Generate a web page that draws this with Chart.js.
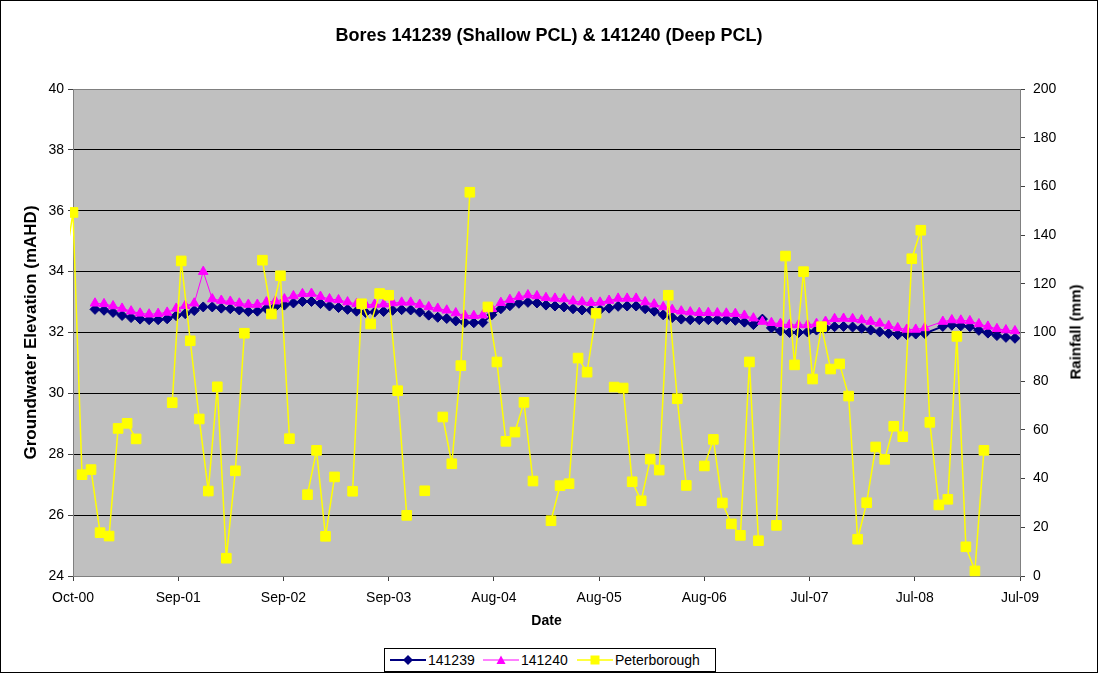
<!DOCTYPE html>
<html>
<head>
<meta charset="utf-8">
<title>Bores 141239 & 141240</title>
<script src="https://cdn.jsdelivr.net/npm/chart.js@4/dist/chart.umd.min.js"></script>
<style>
  body { margin: 0; background: #fff; }
  #wrap { position: relative; width: 1098px; height: 673px; font-family: "Liberation Sans", Arial, sans-serif; }
  #chart { position: absolute; left: 0; top: 0; }
  #rain-title { position: absolute; left: 1075px; top: 332px; transform: translate(-50%, -50%) rotate(-90deg);
    font-weight: bold; font-size: 15px; white-space: nowrap; }
  #legend { position: absolute; left: 384px; top: 648px; width: 330px; height: 22px; border: 1px solid #000;
    background: #fff; font-size: 14px; }
  #legend .item { position: absolute; top: 0; height: 22px; display: flex; align-items: center; }
  #legend svg { margin-right: 2px; }
</style>
</head>
<body>
<div id="wrap">
  <canvas id="chart" width="1098" height="673"></canvas>
  <div id="rain-title">Rainfall (mm)</div>
  <div id="legend">
    <div class="item" style="left:5px">
      <svg width="36" height="12"><line x1="0" y1="6" x2="36" y2="6" stroke="#000080" stroke-width="2"/><polygon points="18,1 23,6 18,11 13,6" fill="#000080"/></svg>141239
    </div>
    <div class="item" style="left:98px">
      <svg width="36" height="12"><line x1="0" y1="6" x2="36" y2="6" stroke="#ff00ff" stroke-width="1"/><polygon points="18,1.5 22.5,10 13.5,10" fill="#ff00ff"/></svg>141240
    </div>
    <div class="item" style="left:192px">
      <svg width="36" height="12"><line x1="0" y1="6" x2="36" y2="6" stroke="#ffff00" stroke-width="1.5"/><rect x="13.5" y="1.5" width="9" height="9" fill="#ffff00"/></svg>Peterborough
    </div>
  </div>
</div>
<script>
// x axis runs in months from Oct-00 (0) to Jul-09 (105)
const xTickLabels = ["Oct-00", "Sep-01", "Sep-02", "Sep-03", "Aug-04", "Aug-05", "Aug-06", "Jul-07", "Jul-08", "Jul-09"];
const axisMonths = 105;

// groundwater levels (mAHD), roughly monthly from mid Dec-00
const gwFirstMonth = 2.44;
const bore141239 = [
    32.76, 32.73, 32.66, 32.56, 32.49, 32.44, 32.42, 32.42, 32.45, 32.55, 32.62, 32.72, 32.84, 32.84, 32.80, 32.78, 32.74, 32.69, 32.70, 32.78,
    32.85, 32.90, 32.97, 33.02, 33.02, 32.95, 32.87, 32.82, 32.76, 32.70, 32.66, 32.67, 32.69, 32.73, 32.75, 32.74, 32.67, 32.57, 32.50, 32.46,
    32.38, 32.33, 32.32, 32.33, 32.58, 32.78, 32.88, 32.96, 32.99, 32.97, 32.90, 32.87, 32.84, 32.78, 32.74, 32.73, 32.75, 32.80, 32.86, 32.87,
    32.87, 32.78, 32.70, 32.58, 32.49, 32.44, 32.42, 32.42, 32.42, 32.42, 32.42, 32.40, 32.34, 32.26, 32.44, 32.15, 32.05, 32.00, 32.00, 32.02,
    32.08, 32.14, 32.19, 32.20, 32.18, 32.14, 32.08, 32.02, 31.97, 31.93, 31.93, 31.95, 31.97, null, 32.20, 32.24, 32.22, 32.19, 32.07, 31.98,
    31.90, 31.84, 31.81
];
const bore141240 = [
    32.96, 32.94, 32.87, 32.79, 32.70, 32.63, 32.60, 32.62, 32.66, 32.79, 32.88, 32.96, 34.00, 33.10, 33.05, 33.02, 32.96, 32.92, 32.92, 33.00,
    33.03, 33.10, 33.20, 33.27, 33.28, 33.18, 33.10, 33.07, 33.00, 32.94, 32.91, 32.92, 32.93, 32.97, 32.99, 32.99, 32.92, 32.84, 32.79, 32.73,
    32.64, 32.56, 32.55, 32.57, 32.78, 32.98, 33.08, 33.17, 33.23, 33.20, 33.14, 33.12, 33.10, 33.03, 33.00, 32.98, 32.99, 33.05, 33.12, 33.12,
    33.12, 33.00, 32.93, 32.84, 32.75, 32.70, 32.67, 32.65, 32.65, 32.64, 32.63, 32.62, 32.56, 32.47, 32.36, 32.32, 32.29, 32.25, 32.25, 32.25,
    32.29, 32.36, 32.45, 32.46, 32.45, 32.41, 32.36, 32.30, 32.22, 32.15, 32.10, 32.10, 32.15, null, 32.36, 32.41, 32.40, 32.38, 32.28, 32.20,
    32.12, 32.08, 32.05
];

// monthly rainfall (mm), first value is Sep-00 (just left of the axis)
const rainFirstMonth = -1;
const peterborough = [
    125,
    149.3, 41.6, 43.7, 17.8, 16.4, 60.6, 62.7, 56.3, null, null,
    null, 71.2, 129.4, 96.6, 64.5, 34.9, 77.7, 7.3, 43.2, 99.7,
    null, 129.7, 107.6, 123.3, 56.4, null, 33.4, 51.6, 16.3, 40.7,
    null, 34.8, 111.8, 103.5, 116.0, 115.3, 76.1, 24.9, null, 35.0,
    null, 65.3, 46.1, 86.4, 157.6, null, 110.5, 87.9, 55.3, 59.1,
    71.3, 39.0, null, 22.7, 37.1, 37.9, 89.5, 83.7, 107.9, null,
    77.6, 77.2, 38.7, 30.9, 48.0, 43.5, 115.3, 72.8, 37.2, null,
    45.2, 56.1, 30.0, 21.4, 16.7, 87.9, 14.5, null, 20.8, 131.4,
    86.7, 125.0, 80.9, 102.4, 85.0, 87.1, 73.9, 15.1, 30.1, 53.0,
    47.9, 61.5, 57.2, 130.3, 142.0, 63.1, 29.2, 31.5, 98.4, 12.0,
    2.1, 51.6
];

function toPoints(values, first) {
    return values.map((v, i) => ({ x: first + i, y: v }));
}

// grey plot area + black frame round the whole chart
const chartFrame = {
    id: "chartFrame",
    beforeDraw(chart) {
        let ctx = chart.ctx;
        let a = chart.chartArea;
        ctx.save();
        ctx.fillStyle = "#fff";
        ctx.fillRect(0, 0, chart.width, chart.height);
        ctx.fillStyle = "#c0c0c0";
        ctx.fillRect(a.left, a.top, a.right - a.left, a.bottom - a.top);
        ctx.restore();
    },
    afterDraw(chart) {
        let ctx = chart.ctx;
        ctx.save();
        ctx.strokeStyle = "#000";
        ctx.lineWidth = 1;
        ctx.strokeRect(0.5, 0.5, chart.width - 1, chart.height - 1);
        ctx.restore();
    }
};

Chart.defaults.font.family = '"Liberation Sans", Arial, sans-serif';
Chart.defaults.font.size = 14;
Chart.defaults.color = "#000";

let context = document.getElementById("chart").getContext("2d");

let chart = new Chart(context, {
    type: "line",
    data: {
        datasets: [
            {
                label: "141239",
                data: toPoints(bore141239, gwFirstMonth),
                yAxisID: "y",
                borderColor: "#000080",
                backgroundColor: "#000080",
                borderWidth: 2,
                pointStyle: "rectRot",
                pointRadius: 5,
                pointBorderWidth: 1,
                spanGaps: true,
                order: 3
            },
            {
                label: "141240",
                data: toPoints(bore141240, gwFirstMonth),
                yAxisID: "y",
                borderColor: "#ff00ff",
                backgroundColor: "#ff00ff",
                borderWidth: 1,
                pointStyle: "triangle",
                pointRadius: 5.5,
                pointBorderWidth: 1,
                spanGaps: true,
                order: 2
            },
            {
                label: "Peterborough",
                data: toPoints(peterborough, rainFirstMonth),
                yAxisID: "y2",
                borderColor: "#ffff00",
                backgroundColor: "#ffff00",
                borderWidth: 1.5,
                pointStyle: "rect",
                pointRadius: 6.8,
                pointBorderWidth: 1,
                spanGaps: false,
                clip: { left: 3, top: 0, right: 0, bottom: 6 },
                order: 1
            }
        ]
    },
    options: {
        responsive: false,
        animation: false,
        layout: { padding: 0 },
        plugins: {
            legend: { display: false },
            tooltip: { enabled: false },
            title: {
                display: true,
                text: "Bores 141239 (Shallow PCL) & 141240 (Deep PCL)",
                font: { size: 18, weight: "bold" },
                padding: { top: 25.2, bottom: 42.2 }
            }
        },
        scales: {
            x: {
                type: "linear",
                min: 0,
                max: axisMonths,
                afterBuildTicks: s => {
                    s.ticks = xTickLabels.map((l, i) => ({ value: i * axisMonths / 9 }));
                },
                afterFit: s => { s.height = 97; },
                ticks: {
                    autoSkip: false,
                    maxRotation: 0,
                    padding: 9,
                    callback: (v, i) => xTickLabels[i]
                },
                grid: { drawOnChartArea: false, tickLength: 5, tickColor: "#404040" },
                border: { color: "#808080" },
                title: {
                    display: true,
                    text: "Date",
                    font: { size: 14, weight: "bold" },
                    padding: { top: 0, bottom: 43 }
                }
            },
            y: {
                position: "left",
                min: 24,
                max: 40,
                afterFit: s => { s.width = 73; },
                ticks: { stepSize: 2, padding: 4 },
                grid: {
                    color: c => c.tick.value === 40 ? "#808080" : (c.tick.value === 24 ? "rgba(0,0,0,0)" : "#000"),
                    tickLength: 5,
                    tickColor: "#404040"
                },
                border: { color: "#808080" },
                title: {
                    display: true,
                    text: "Groundwater Elevation (mAHD)",
                    font: { size: 17, weight: "bold" },
                    padding: { top: 20.8, bottom: 0 }
                }
            },
            y2: {
                position: "right",
                min: 0,
                max: 200,
                afterFit: s => { s.width = 78; },
                ticks: { stepSize: 20, padding: 8 },
                grid: { drawOnChartArea: false, tickLength: 5, tickColor: "#404040" },
                border: { color: "#808080" }
            }
        }
    },
    plugins: [chartFrame]
});
</script>
</body>
</html>
